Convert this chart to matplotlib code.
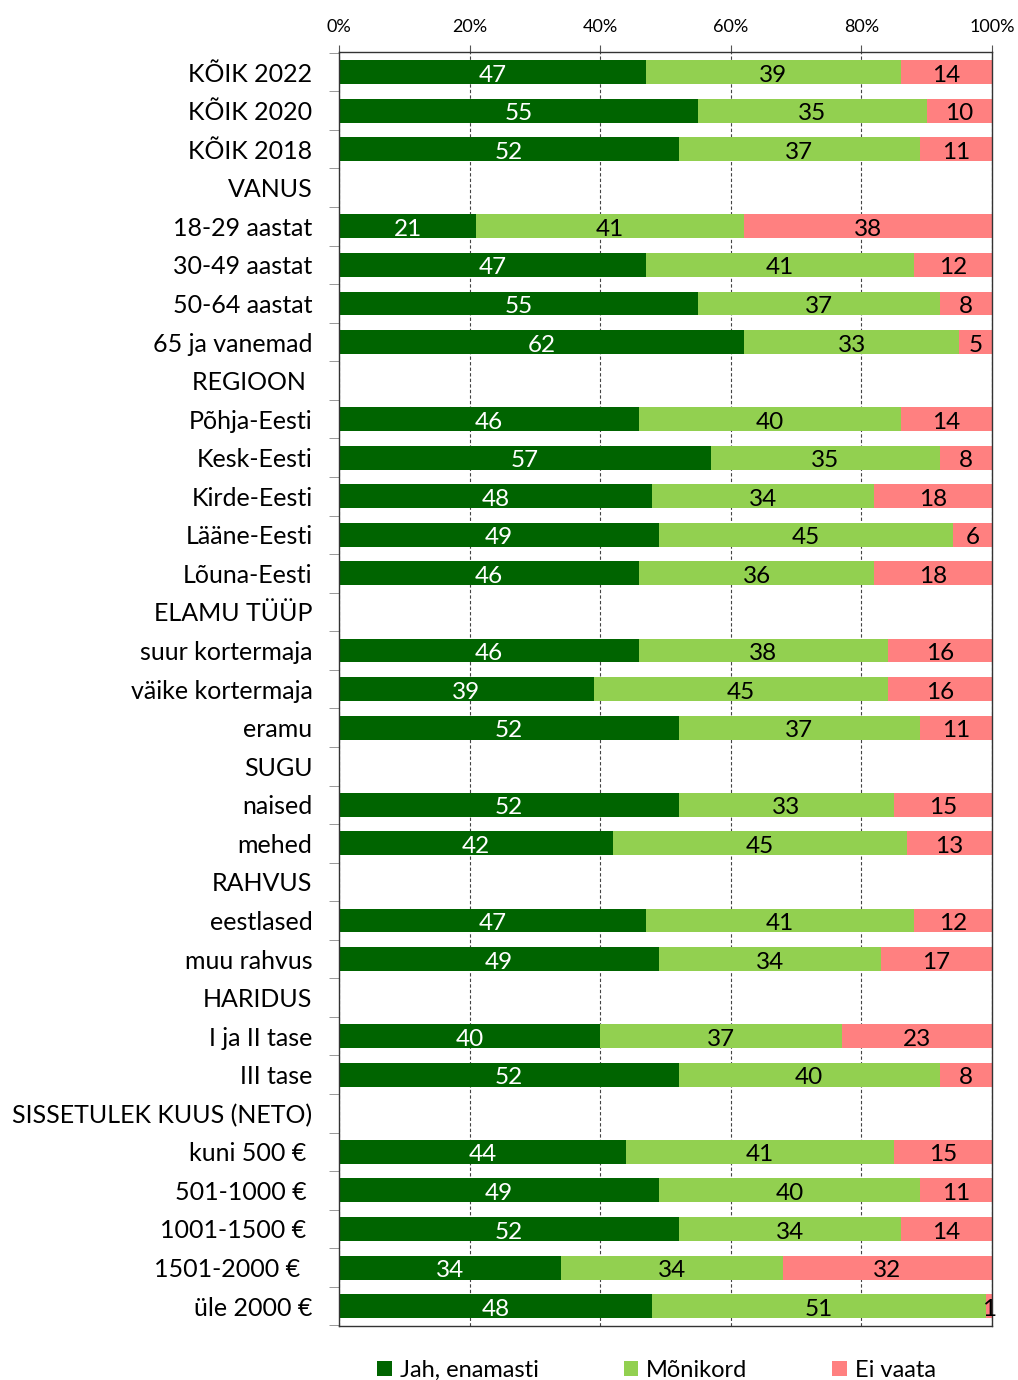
import numpy as np
import matplotlib.pyplot as plt

plt.rcParams['font.family'] = ['Lato', 'DejaVu Sans']

# categories, top to bottom (group headers have no values)
categories = [
    "KÕIK 2022", "KÕIK 2020", "KÕIK 2018",
    "VANUS", "18-29 aastat", "30-49 aastat", "50-64 aastat", "65 ja vanemad",
    "REGIOON ", "Põhja-Eesti", "Kesk-Eesti", "Kirde-Eesti", "Lääne-Eesti", "Lõuna-Eesti",
    "ELAMU TÜÜP", "suur kortermaja", "väike kortermaja", "eramu",
    "SUGU", "naised", "mehed",
    "RAHVUS", "eestlased", "muu rahvus",
    "HARIDUS", "I ja II tase", "III tase",
    "SISSETULEK KUUS (NETO)", "kuni 500 € ", "501-1000 € ", "1001-1500 € ", "1501-2000 €  ", "üle 2000 €",
]

N = None
jah = [47, 55, 52,
       N, 21, 47, 55, 62,
       N, 46, 57, 48, 49, 46,
       N, 46, 39, 52,
       N, 52, 42,
       N, 47, 49,
       N, 40, 52,
       N, 44, 49, 52, 34, 48]
monikord = [39, 35, 37,
            N, 41, 41, 37, 33,
            N, 40, 35, 34, 45, 36,
            N, 38, 45, 37,
            N, 33, 45,
            N, 41, 34,
            N, 37, 40,
            N, 41, 40, 34, 34, 51]
ei_vaata = [14, 10, 11,
            N, 38, 12, 8, 5,
            N, 14, 8, 18, 6, 18,
            N, 16, 16, 11,
            N, 15, 13,
            N, 12, 17,
            N, 23, 8,
            N, 15, 11, 14, 32, 1]

series = [("Jah, enamasti", jah, "#006400", "white"),
          ("Mõnikord", monikord, "#92D050", "black"),
          ("Ei vaata", ei_vaata, "#FF8080", "black")]

fig = plt.figure(figsize=(10.18, 13.8), dpi=100)
ax = fig.add_axes([0.333, 0.039, 0.6415, 0.9233])

y = np.arange(len(categories))
left = np.zeros(len(categories))
for name, vals, col, tcol in series:
    v = np.array([np.nan if x is None else x for x in vals], dtype=float)
    vv = np.nan_to_num(v)
    ax.barh(y, vv, left=left, height=0.62, color=col, label=name, zorder=2)
    for yi, (l, w) in enumerate(zip(left, v)):
        if not np.isnan(w):
            ax.text(l + w / 2, yi + 0.08, f"{int(w)}", ha="center", va="center",
                    fontsize=17.5, color=tcol, zorder=3)
    left = left + vv

ax.set_xlim(0, 100)
ax.set_ylim(len(categories) - 0.48, -0.52)
ax.set_xticks([0, 20, 40, 60, 80, 100])
ax.set_xticklabels(["0%", "20%", "40%", "60%", "80%", "100%"])
ax.xaxis.tick_top()
ax.tick_params(axis="x", labelsize=13, length=5, pad=7, color="#555555")
ax.grid(axis="x", linestyle=(0, (3, 2)), color="#444444", linewidth=0.8, zorder=1)

ax.set_yticks(y)
ax.set_yticklabels(categories, fontsize=18)
ax.set_yticks(np.arange(len(categories) + 1) - 0.5, minor=True)
ax.tick_params(axis="y", which="major", length=0, pad=19)
ax.tick_params(axis="y", which="minor", length=7, color="#888888")

for s in ax.spines.values():
    s.set_color("#333333")
    s.set_linewidth(1)

fig.legend(loc="lower center", bbox_to_anchor=(0.645, -0.016), ncol=3, frameon=False,
           fontsize=17, handlelength=0.6, handleheight=0.6, handletextpad=0.35,
           columnspacing=3.6)

fig.savefig("out.png", dpi=100)
